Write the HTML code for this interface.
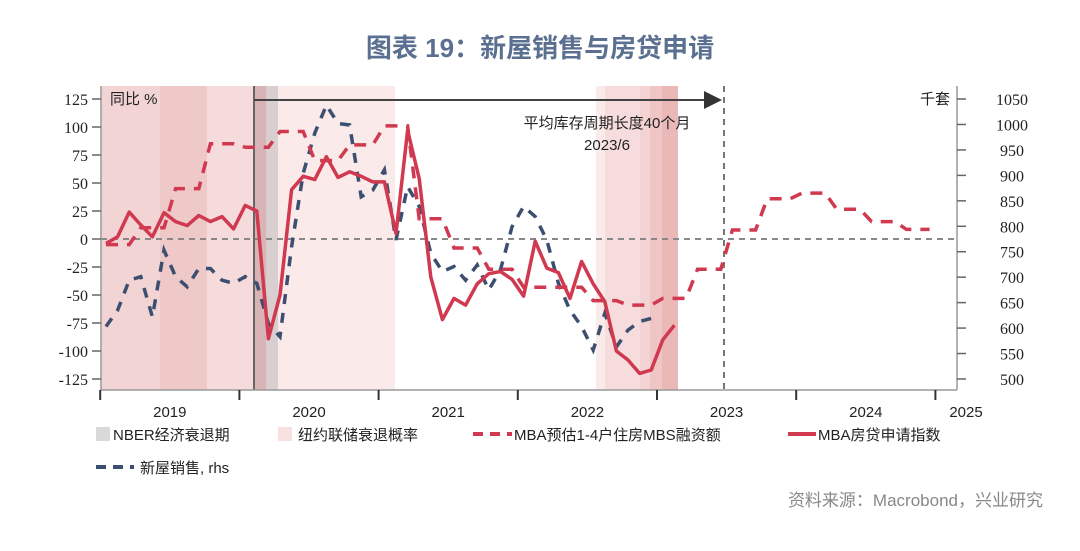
<!DOCTYPE html>
<html><head><meta charset="utf-8"><style>
body{margin:0;background:#fff;width:1080px;height:546px;overflow:hidden;font-family:"Liberation Sans","Noto Sans CJK SC",sans-serif}
</style></head><body>
<svg id="c" width="1080" height="546" xmlns="http://www.w3.org/2000/svg">
<text x="540" y="57" text-anchor="middle" font-size="26" font-weight="bold" fill="#5b7090" font-family="Liberation Sans,Noto Sans CJK SC,sans-serif">图表 19：新屋销售与房贷申请</text>
<g id="shade"></g>
<g id="grid"></g>
<g id="series"></g>
<g id="axes"></g>
<g id="legend" font-size="15" fill="#222">
<rect x="96" y="427" width="14" height="14" fill="#d9d9d9"/>
<text x="113" y="440">NBER经济衰退期</text>
<rect x="278" y="427" width="14" height="14" fill="#f8e0e0"/>
<text x="298" y="440">纽约联储衰退概率</text>
<line x1="473" y1="434" x2="512" y2="434" stroke="#d0394f" stroke-width="4" stroke-dasharray="10,7"/>
<text x="514" y="440">MBA预估1-4户住房MBS融资额</text>
<line x1="788" y1="434" x2="816" y2="434" stroke="#d0394f" stroke-width="4"/>
<text x="818" y="440">MBA房贷申请指数</text>
<line x1="96" y1="467" x2="134" y2="467" stroke="#3d4f70" stroke-width="4" stroke-dasharray="10,7"/>
<text x="140" y="473">新屋销售, rhs</text>
</g>
<text x="1043" y="506" text-anchor="end" font-size="17" fill="#888">资料来源：Macrobond，兴业研究</text>
</svg>
<script>
const mbaIndex=[-4,2,24,12.5,2,23.5,15.5,12,21,15.5,20,9,30,25,-89,-50,44,56,53,73.5,55,60,56,51,51,5,97,54,-34,-72,-53,-59,-40,-31,-29,-36,-51,-2,-26,-30,-53,-20,-40,-56,-100,-108,-120,-117,-90,-77];
const mbsQuarterly=[-5,10,45,85,82,96,70,84,101,18,-8,-27,-43,-43,-55,-59,-53,-27,8,36,41,26.5,15.5,8.6];
const newHomeSales=[603,635,694,701,622,753,701,681,717,717,694,688,701,688,609,583,760,904,983,1038,1002,999,858,871,911,773,878,839,747,711,721,694,724,675,714,799,839,819,773,688,635,603,557,629,563,596,613,619];
const leftTicks=[125,100,75,50,25,0,-25,-50,-75,-100,-125];
const rightTicks=[1050,1000,950,900,850,800,750,700,650,600,550,500];
const years=["2019","2020","2021","2022","2023","2024","2025"];
const NS="http://www.w3.org/2000/svg";
const X=m=>106+m*11.6;
const YL=v=>239-v*1.12;
const YR=v=>239-(v-775)*0.509;
function el(p,t,a){const e=document.createElementNS(NS,t);for(const k in a)e.setAttribute(k,a[k]);document.getElementById(p).appendChild(e);return e;}
// shading
const bands=[[101,160,"#f3d4d4"],[160,207,"#efc8c8"],[207,254,"#f5dbdb"],[254,266,"#d9b4b6"],[266,278,"#d9cfd0"],[278,395,"#faeaea"],[596,605,"#fbeaea"],[605,640,"#f6dcdc"],[640,650,"#f3d3d3"],[650,662,"#efc5c5"],[662,678,"#ebb8b8"]];
bands.forEach(b=>{const r=el("shade","rect",{x:b[0],y:86,width:b[1]-b[0],height:304,fill:b[2]});

});
let z=el("grid","line",{x1:101,x2:957,y1:YL(0),y2:YL(0),stroke:"#888","stroke-width":2,"stroke-dasharray":"6,5"});


let vl=el("grid","line",{x1:254,x2:254,y1:86,y2:390,stroke:"#666","stroke-width":2});


let vd=el("grid","line",{x1:724,x2:724,y1:86,y2:390,stroke:"#777","stroke-width":2,"stroke-dasharray":"6,5"});


let ar=el("grid","line",{x1:254,x2:706,y1:100,y2:100,stroke:"#444","stroke-width":2});


let ah=el("grid","polygon",{points:"704,91 722,100 704,109",fill:"#333"});


let t1=el("grid","text",{x:607,y:128,"text-anchor":"middle","font-size":15,fill:"#222"});t1.textContent="平均库存周期长度40个月";


let t2=el("grid","text",{x:607,y:150,"text-anchor":"middle","font-size":15,fill:"#222"});t2.textContent="2023/6";


// series
let mbsMonthly=[];mbsQuarterly.forEach(v=>{mbsMonthly.push(v,v,v);});
const pts=(arr,fy)=>arr.map((v,i)=>X(i).toFixed(1)+","+fy(v).toFixed(1)).join(" ");
let s1=el("series","polyline",{points:pts(newHomeSales,YR),fill:"none",stroke:"#3d4f70","stroke-width":3.5,"stroke-dasharray":"10,9"});


let s2=el("series","polyline",{points:pts(mbsMonthly,YL),fill:"none",stroke:"#d0394f","stroke-width":3.5,"stroke-dasharray":"12,9"});


let s3=el("series","polyline",{points:pts(mbaIndex,YL),fill:"none",stroke:"#d0394f","stroke-width":3.5,"stroke-linejoin":"round"});


// axes
[["101","86","101","390"],["957","86","957","390"],["101","390","957","390"]].forEach(a=>{let l=el("axes","line",{x1:a[0],y1:a[1],x2:a[2],y2:a[3],stroke:"#999","stroke-width":1.5});

});
leftTicks.forEach(v=>{let l=el("axes","line",{x1:92,x2:101,y1:YL(v),y2:YL(v),stroke:"#666","stroke-width":1.5});


let t=el("axes","text",{x:88,y:YL(v)+6,"text-anchor":"end","font-size":16,fill:"#222","font-family":"Liberation Serif,serif"});t.textContent=v;

});
rightTicks.forEach(v=>{let l=el("axes","line",{x1:957,x2:966,y1:YR(v),y2:YR(v),stroke:"#666","stroke-width":1.5});


let t=el("axes","text",{x:1012,y:YR(v)+6,"text-anchor":"middle","font-size":16,fill:"#222","font-family":"Liberation Serif,serif"});t.textContent=v;

});
years.forEach((y,i)=>{const xt=X(i*12-0.5);let l=el("axes","line",{x1:xt,x2:xt,y1:390,y2:400,stroke:"#333","stroke-width":2});


let t=el("axes","text",{x:i==6?966:X(i*12+5.5),y:417,"text-anchor":"middle","font-size":15,fill:"#222"});t.textContent=y;

});
let lu=el("axes","text",{x:110,y:104,"font-size":15,fill:"#222"});lu.textContent="同比 %";


let ru=el("axes","text",{x:950,y:104,"text-anchor":"end","font-size":15,fill:"#222"});ru.textContent="千套";


</script>
</body></html>
